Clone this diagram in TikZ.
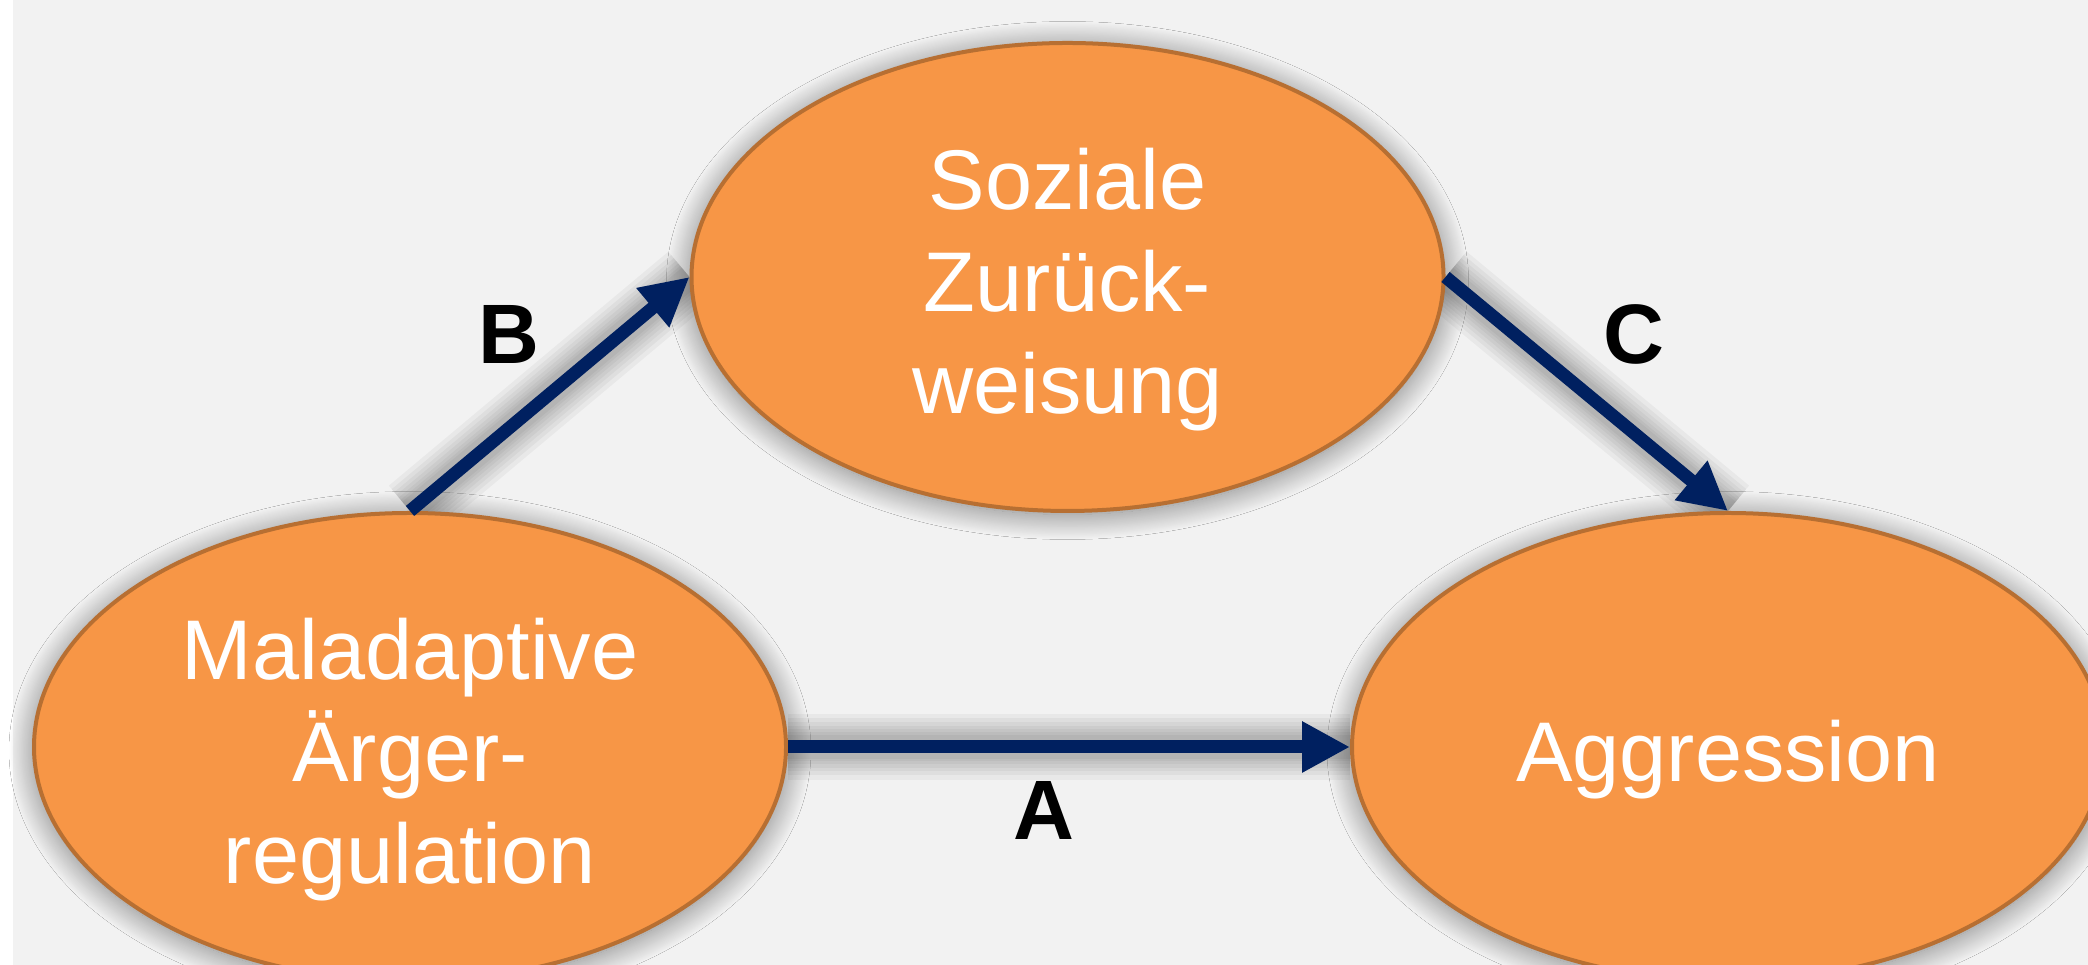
\documentclass[tikz,border=0pt]{standalone}
\usepackage{fontspec}
\setmainfont{Liberation Sans}
\usepackage{tikz}
\usetikzlibrary{shapes,positioning,arrows.meta,backgrounds,shadows.blur}

\definecolor{slidebg}{RGB}{242,242,242}
\definecolor{ovalfill}{RGB}{247,150,70}
\definecolor{ovalline}{RGB}{183,111,50}
\definecolor{arrowblue}{RGB}{0,32,96}

% strut on the first line, sets the text a little lower in the oval
\newcommand{\ovalstrut}{\rule{0pt}{0.86cm}}

\begin{document}
\begin{tikzpicture}[
		ovalnode/.style={ellipse, draw=ovalline, line width=0.04cm, fill=ovalfill, minimum width=7.52cm, minimum height=4.68cm, inner sep=0pt, align=center, text=white, font=\fontsize{24.1pt}{29pt}\selectfont, blur shadow={shadow xshift=0pt, shadow yshift=-1pt, shadow blur radius=0.25cm, shadow blur steps=40, shadow opacity=50}},
		link/.style={draw=arrowblue, line width=0.13cm, -{Triangle[length=0.48cm,width=0.48cm]}},
		glow/.style={draw=black, opacity=0.04, line width=#1},
		lbl/.style={font=\fontsize{24pt}{29pt}\selectfont\bfseries, text=black}
		]
		\useasboundingbox (0,0) rectangle (20.88,9.65);
		
		% Nodes
		\node[ovalnode] (Maladaptiv) at (4.10,2.18) {\ovalstrut Maladaptive\\Ärger-\\regulation};
		\node[ovalnode] (Zurueck) at (10.675,6.88) {\ovalstrut Soziale\\Zurück-\\weisung};
		\node[ovalnode] (Aggression) at (17.28,2.18) {\ovalstrut Aggression};
		
		% Paths
		\draw[link] (Maladaptiv.north) -- (Zurueck.west);
		\draw[link] (Zurueck.east) -- (Aggression.north);
		\draw[link] (Maladaptiv.east) -- (Aggression.west);
		
		% Labels
		\node[lbl] (labelB) at (5.09,6.31) {B};
		\node[lbl] (labelC) at (16.34,6.31) {C};
		\node[lbl] (labelA) at (10.44,1.55) {A};
		
		% Slide and arrow shadows
		\begin{scope}[on background layer]
			\fill[white] (0,0) rectangle (20.88,9.65);
			\fill[slidebg] (0.13,0) rectangle (20.88,9.65);
			\foreach \w in {0.66cm,0.57cm,0.49cm,0.42cm,0.35cm,0.29cm,0.24cm}{
				\path[glow=\w] (Maladaptiv.north) -- (Zurueck.west);
				\path[glow=\w] (Zurueck.east) -- (Aggression.north);
				\path[glow=\w] (Maladaptiv.east) -- (Aggression.west);
			}
		\end{scope}
	\end{tikzpicture}
\end{document}
